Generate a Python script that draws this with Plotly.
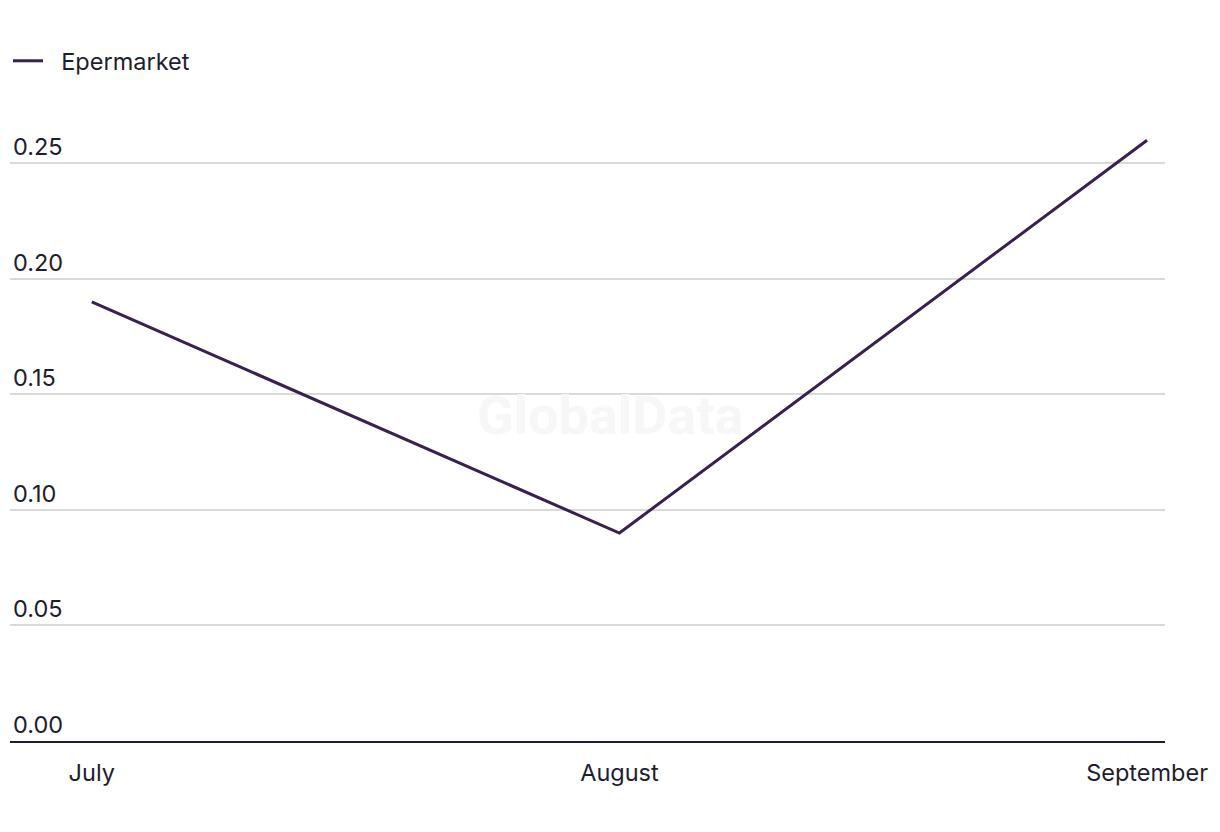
import plotly.graph_objects as go

months = ["July", "August", "September"]
values = [0.19, 0.09, 0.26]
series_name = "Epermarket"
y_ticks = [0.0, 0.05, 0.10, 0.15, 0.20, 0.25]
y_tick_labels = ["0.00", "0.05", "0.10", "0.15", "0.20", "0.25"]

font_family = "Inter, Lato, sans-serif"
text_color = "#1d1d2f"
line_color = "#38204f"

# page offset (body margin) compensation
OFF = 8
plot_left, plot_right, plot_top_val, axis_y = 10, 1165, 94, 741

fig = go.Figure()
fig.add_trace(go.Scatter(
    x=[0, 1, 2], y=values, mode="lines", name="\u00a0\u00a0" + series_name,
    line=dict(color=line_color, width=3),
))

fig.update_layout(
    width=1220, height=832,
    paper_bgcolor="white", plot_bgcolor="white",
    margin=dict(l=plot_left - OFF, r=1220 - plot_right + OFF,
                t=plot_top_val - OFF, b=832 - axis_y + OFF),
    font=dict(family=font_family, size=23.5, color=text_color),
    showlegend=True,
    legend=dict(x=-6 / (plot_right - plot_left), y=1 - (61 - OFF) / 832,
                xref="paper", yref="container",
                xanchor="left", yanchor="middle", orientation="h",
                font=dict(size=23.5, color=text_color), bgcolor="rgba(0,0,0,0)"),
    xaxis=dict(
        range=[-0.155, 2.034], tickmode="array", tickvals=[0, 1, 2], ticktext=months,
        showgrid=False, zeroline=False, showline=True, linecolor="#1d1d2f", linewidth=2,
        ticks="", ticklabelstandoff=10, tickfont=dict(size=23.5, color=text_color),
        fixedrange=True,
    ),
    yaxis=dict(
        range=[0, 0.28], tickmode="array", tickvals=y_ticks, ticktext=y_tick_labels,
        showgrid=True, gridcolor="#d9d9d9", gridwidth=1.5, zeroline=False,
        showline=False, ticks="", ticklabelposition="inside top",
        tickfont=dict(size=23.5, color=text_color), fixedrange=True,
    ),
    annotations=[dict(
        text="<b>GlobalData</b>",
        x=(610 - plot_left) / (plot_right - plot_left),
        y=(axis_y - 415) / (axis_y - plot_top_val),
        xref="paper", yref="paper",
        showarrow=False, font=dict(size=54, color="#f7f7f7", family="Roboto, sans-serif"),
    )],
)

fig.write_html("out.html")
